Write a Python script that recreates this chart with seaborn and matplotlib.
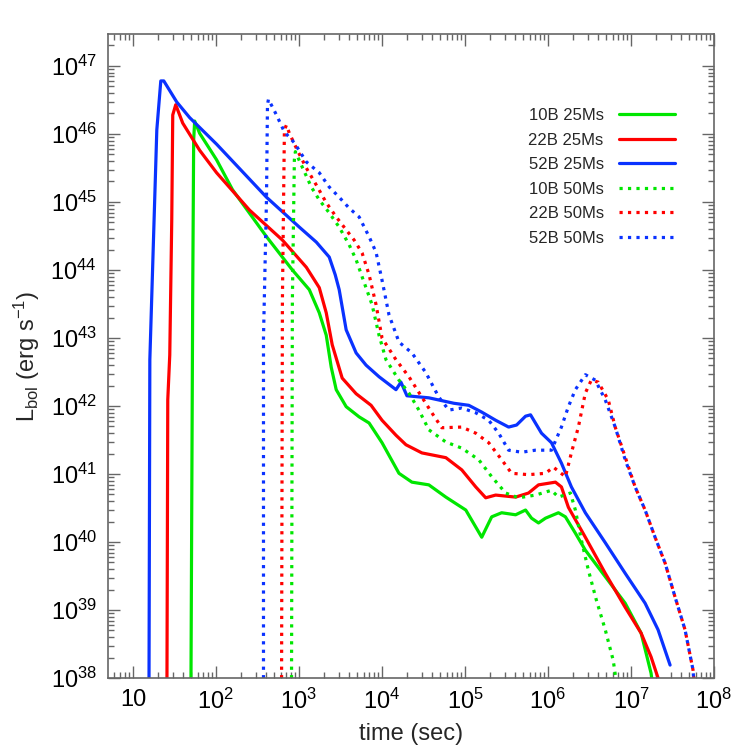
import numpy as np
import pandas as pd
import seaborn as sns
from matplotlib import pyplot as plt
import matplotlib.ticker as mtick

# log10(time [s]) and log10(L_bol [erg/s])
t_10b_25 = [1.696, 1.720, 1.732, 1.744, 1.804, 2.008, 2.200, 2.609, 2.921, 3.125, 3.245, 3.329, 3.389,
            3.449, 3.569, 3.725, 3.845, 4.001, 4.205, 4.361, 4.565, 4.770, 5.010, 5.130, 5.202, 5.322,
            5.442, 5.610, 5.730, 5.802, 5.886, 5.970, 6.126, 6.210, 6.330, 6.450, 6.690, 6.930, 7.122,
            7.242, 7.270]
l_10b_25 = [37.0, 43.56, 45.91, 46.19, 46.01, 45.62, 45.18, 44.49, 44.00, 43.71, 43.37, 43.04, 42.57,
            42.24, 41.99, 41.84, 41.75, 41.46, 41.01, 40.88, 40.84, 40.66, 40.47, 40.22, 40.07, 40.37,
            40.43, 40.40, 40.47, 40.35, 40.28, 40.35, 40.43, 40.37, 40.13, 39.88, 39.49, 39.10, 38.66,
            38.07, 37.8]

t_22b_25 = [1.408, 1.420, 1.444, 1.468, 1.480, 1.516, 1.600, 1.804, 2.008, 2.405, 2.801, 3.089, 3.245,
            3.329, 3.401, 3.521, 3.689, 3.869, 4.001, 4.169, 4.289, 4.481, 4.770, 4.962, 5.130, 5.250,
            5.370, 5.610, 5.766, 5.886, 6.090, 6.162, 6.246, 6.450, 6.690, 6.930, 7.122, 7.242, 7.326,
            7.350]
l_22b_25 = [37.0, 42.09, 42.75, 44.74, 46.28, 46.43, 46.16, 45.76, 45.43, 44.88, 44.44, 44.04, 43.74,
            43.37, 42.90, 42.41, 42.18, 42.01, 41.79, 41.57, 41.43, 41.31, 41.24, 41.06, 40.81, 40.65,
            40.69, 40.66, 40.72, 40.84, 40.88, 40.81, 40.51, 40.07, 39.54, 39.04, 38.66, 38.31, 38.0,
            37.8]

t_52b_25 = [1.192, 1.204, 1.288, 1.336, 1.372, 1.528, 1.684, 2.008, 2.609, 3.005, 3.209, 3.365, 3.437,
            3.485, 3.569, 3.689, 3.809, 3.965, 4.169, 4.229, 4.301, 4.565, 4.866, 5.046, 5.202, 5.370,
            5.526, 5.622, 5.730, 5.790, 5.922, 6.042, 6.162, 6.282, 6.450, 6.690, 6.930, 7.170, 7.326,
            7.471]
l_52b_25 = [37.0, 42.68, 46.06, 46.78, 46.78, 46.47, 46.24, 45.85, 45.07, 44.63, 44.41, 44.19, 43.93,
            43.71, 43.12, 42.78, 42.60, 42.43, 42.24, 42.35, 42.15, 42.12, 42.04, 42.01, 41.91, 41.79,
            41.69, 41.72, 41.85, 41.87, 41.60, 41.46, 41.16, 40.81, 40.43, 39.99, 39.54, 39.10, 38.71,
            38.19]

t_10b_50 = [2.909, 2.921, 2.945, 2.957, 3.041, 3.149, 3.245, 3.365, 3.485, 3.605, 3.689, 3.761, 3.881,
            3.965, 4.049, 4.205, 4.325, 4.445, 4.565, 4.770, 4.962, 5.166, 5.322, 5.490, 5.646, 5.850,
            6.042, 6.126, 6.270, 6.330, 6.402, 6.486, 6.582, 6.690, 6.786, 6.840]
l_10b_50 = [37.0, 43.56, 45.62, 45.74, 45.51, 45.22, 45.03, 44.84, 44.63, 44.37, 44.15, 43.90, 43.49,
            43.04, 42.68, 42.38, 42.19, 41.94, 41.65, 41.47, 41.38, 41.21, 40.96, 40.72, 40.65, 40.69,
            40.76, 40.66, 40.72, 40.47, 40.03, 39.59, 39.15, 38.71, 38.26, 37.8]

t_22b_50 = [2.789, 2.801, 2.825, 2.849, 2.885, 2.981, 3.089, 3.209, 3.329, 3.449, 3.569, 3.665, 3.761,
            3.845, 3.929, 4.001, 4.169, 4.325, 4.481, 4.601, 4.721, 4.962, 5.130, 5.286, 5.442, 5.562,
            5.766, 5.970, 6.066, 6.210, 6.282, 6.366, 6.450, 6.522, 6.606, 6.726, 6.810, 6.930, 7.050,
            7.170, 7.290, 7.411, 7.531, 7.651, 7.747, 7.770]
l_22b_50 = [37.0, 43.56, 46.06, 46.13, 46.01, 45.76, 45.50, 45.25, 44.99, 44.78, 44.59, 44.44, 44.25,
            43.93, 43.49, 43.00, 42.68, 42.43, 42.13, 41.90, 41.68, 41.69, 41.60, 41.46, 41.21, 41.01,
            40.99, 41.01, 41.10, 40.96, 41.31, 41.69, 42.19, 42.38, 42.35, 42.09, 41.69, 41.25, 40.81,
            40.47, 40.07, 39.69, 39.19, 38.71, 38.12, 37.8]

t_52b_50 = [2.573, 2.573, 2.609, 2.621, 2.633, 2.729, 2.825, 2.945, 3.089, 3.245, 3.365, 3.485, 3.605,
            3.725, 3.845, 3.929, 4.001, 4.085, 4.205, 4.361, 4.529, 4.685, 4.806, 4.962, 5.130, 5.286,
            5.406, 5.526, 5.682, 5.850, 6.042, 6.162, 6.246, 6.330, 6.450, 6.570, 6.690, 6.810, 6.930,
            7.050, 7.170, 7.290, 7.411, 7.531, 7.651, 7.747, 7.760]
l_52b_50 = [37.0, 43.01, 45.03, 46.43, 46.51, 46.28, 46.03, 45.87, 45.59, 45.43, 45.22, 45.07, 44.91,
            44.78, 44.49, 44.26, 43.85, 43.34, 42.94, 42.78, 42.49, 42.13, 41.94, 41.97, 41.90, 41.79,
            41.60, 41.35, 41.32, 41.35, 41.35, 41.69, 41.99, 42.24, 42.46, 42.38, 42.09, 41.69, 41.21,
            40.81, 40.47, 40.07, 39.69, 39.19, 38.71, 38.12, 37.9]

labels = ['10B 25Ms', '22B 25Ms', '52B 25Ms', '10B 50Ms', '22B 50Ms', '52B 50Ms']
series = [(t_10b_25, l_10b_25), (t_22b_25, l_22b_25), (t_52b_25, l_52b_25),
          (t_10b_50, l_10b_50), (t_22b_50, l_22b_50), (t_52b_50, l_52b_50)]
colors = ['#00e600', '#ff0000', '#0a32ff', '#00e600', '#ff0000', '#0a32ff']
styles = ['-', '-', '-', ':', ':', ':']

x_decades = list(range(1, 9))
y_decades = list(range(38, 48))

sns.set_style('ticks')
plt.rcParams['font.family'] = ['Liberation Sans', 'DejaVu Sans']
plt.rcParams['mathtext.default'] = 'regular'
plt.rcParams['axes.edgecolor'] = '#666666'
plt.rcParams['xtick.color'] = '#666666'
plt.rcParams['ytick.color'] = '#666666'
plt.rcParams['xtick.labelcolor'] = 'black'
plt.rcParams['ytick.labelcolor'] = 'black'


def log_label(n):
    if n == 1:
        return '10'
    return r'$10^{%d}$' % n


def minor_ticks(lo, hi):
    vals = [m * 10.0 ** d for d in range(int(np.floor(lo)), int(np.ceil(hi)) + 1) for m in range(2, 10)]
    return [v for v in vals if 10 ** lo <= v <= 10 ** hi]


fig = plt.figure(figsize=(7.47, 7.47), dpi=100)
ax = fig.add_axes([108 / 747, 69 / 747, 606 / 747, 644 / 747])
ax.set_xscale('log')
ax.set_yscale('log')

for (t, lum), lab, col, ls in zip(series, labels, colors, styles):
    df = pd.DataFrame({'time': 10 ** np.array(t), 'lbol': 10 ** np.array(lum)})
    sns.lineplot(data=df, x='time', y='lbol', ax=ax, color=col, linestyle=ls, linewidth=2.3,
                 sort=False, estimator=None, label=lab)

ax.set_xlim(10 ** 0.7, 1e8)
ax.set_ylim(1e38, 10 ** 47.47)
ax.set_xticks([10.0 ** n for n in x_decades], [log_label(n) for n in x_decades])
ax.set_yticks([10.0 ** n for n in y_decades], [log_label(n) for n in y_decades])
ax.set_xticks(minor_ticks(0.7, 8), minor=True)
ax.set_yticks(minor_ticks(38, 47.47), minor=True)
ax.xaxis.set_minor_formatter(mtick.NullFormatter())
ax.yaxis.set_minor_formatter(mtick.NullFormatter())
ax.tick_params(which='both', direction='in', top=True, right=True, width=1)
ax.tick_params(which='major', length=8.5, labelsize=17, pad=8)
ax.tick_params(which='minor', length=4.5)
for sp in ax.spines.values():
    sp.set_linewidth(1.2)

ax.set_xlabel('time (sec)', fontsize=17, labelpad=6)
ax.set_ylabel(r'L$_{bol}$ (erg s$^{-1}$)', fontsize=17, labelpad=6)

ax.legend(loc='upper right', bbox_to_anchor=(0.950, 0.898), frameon=False, markerfirst=False,
          fontsize=12, handlelength=3.4, handletextpad=0.9, labelspacing=0.57, borderpad=0)

plt.savefig('out.png', dpi=100)
